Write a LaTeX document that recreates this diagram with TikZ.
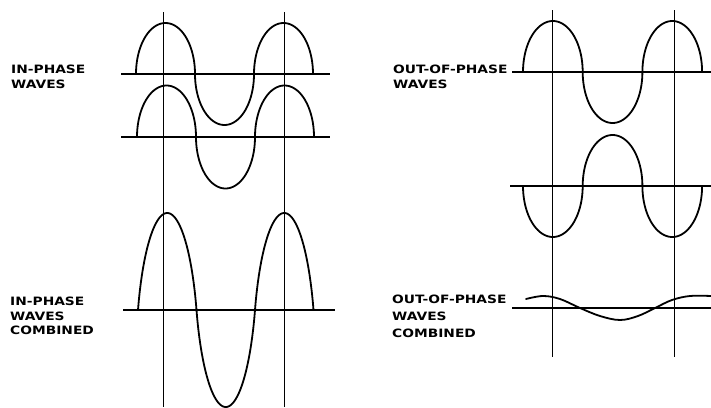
\documentclass[tikz,border=0pt]{standalone}
\usepackage{fontspec}
\usepackage{graphicx}
\newfontfamily\handfont{DejaVu Sans}
% x0, half width, baseline, amplitude, end angle, blend (1 = elliptic, 0 = sine)
\newcommand\mywave[6]{plot[domain=0:#5, samples=181, variable=\t]
  ({#1 + #2*(floor(\t/180) + #6*(1-cos(mod(\t,180)))/2 + (1-#6)*mod(\t,180)/180)}, {#3 - #4*sin(\t)})}
\begin{document}
\begin{tikzpicture}[x=1pt,y=-1pt,
  wave/.style={line width=1.8pt, line join=round, line cap=round},
  axisline/.style={line width=1.5pt},
  guide/.style={line width=0.8pt},
  lbl/.style={font=\handfont\bfseries\fontsize{11.5}{15}\selectfont, align=left,
    anchor=north west, inner sep=0pt, xscale=1.2}]
\useasboundingbox (0,0) rectangle (711,407);

% ---------- left panel ----------
\draw[guide] (163,12) -- (163,407);
\draw[guide] (284,12) -- (284,407);
\draw[axisline] (121,74) -- (330,74);
\draw[axisline] (121,137) -- (330,137);
\draw[axisline] (123,310) -- (335,310);
\draw[wave] \mywave{136}{59}{74}{51}{540}{1};
\draw[wave] \mywave{137}{59}{137}{51.5}{540}{1};
\draw[wave] \mywave{138}{58.5}{310}{97}{540}{0.6};

\node[lbl] (ipw) at (11,65) {IN-PHASE\\WAVES};
\node[lbl, font=\handfont\bfseries\fontsize{11.5}{14.5}\selectfont] (ipc) at (10,297) {IN-PHASE\\WAVES\\COMBINED};

% ---------- right panel ----------
\draw[guide] (552,10) -- (552,357);
\draw[guide] (674,10) -- (674,357);
\draw[axisline] (512,72) -- (711,72);
\draw[axisline] (510,186) -- (711,186);
\draw[axisline] (512,308) -- (711,308);
\draw[wave] \mywave{523}{59.7}{72}{51}{540}{1};
\draw[wave] \mywave{523}{59.7}{186}{(-51)}{540}{1};
\draw[wave] plot[smooth, tension=0.6] coordinates {(526,299) (543,296) (560,299) (580,308) (600,316) (620,320) (638,316) (655,308) (672,300) (690,296) (711,296)};

\node[lbl] (opw) at (393,65) {OUT-OF-PHASE\\WAVES};
\node[lbl, font=\handfont\bfseries\fontsize{11.5}{17}\selectfont] (opc) at (392,295) {OUT-OF-PHASE\\WAVES\\COMBINED};
\end{tikzpicture}
\end{document}
